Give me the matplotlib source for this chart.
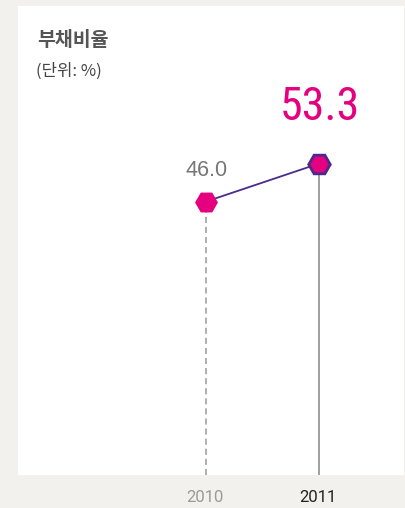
import matplotlib
matplotlib.use("Agg")
import matplotlib.pyplot as plt
from matplotlib import font_manager

# data
years = [2010, 2011]
debt_ratio = [46.0, 53.3]
value_labels = ["46.0", "53.3"]
year_labels = ["2010", "2011"]

title = "부채비율"
unit = "(단위: %)"

MAGENTA = "#e4007f"
PURPLE = "#4b2a8c"
BG = "#f2f1ed"

# pick a narrow font for the big number if one is installed
names = sorted({f.name for f in font_manager.fontManager.ttflist})
narrow = None
for cand in ["Liberation Sans Narrow", "DejaVu Sans Condensed", "Roboto Condensed"]:
    if cand in names:
        narrow = cand
        break
if narrow is None:
    narrow = "Liberation Sans"

fig = plt.figure(figsize=(4.05, 5.08), dpi=100)
fig.patch.set_facecolor(BG)

W, H = 405, 508
ax = fig.add_axes([18 / W, (H - 475) / H, 386 / W, 469 / H])
ax.set_facecolor("white")
ax.set_xlim(2008.336, 2011.752)
ax.set_ylim(-6.53, 83.57)
for s in ax.spines.values():
    s.set_visible(False)
ax.set_xticks([])
ax.set_yticks([])

ymin = ax.get_ylim()[0]

# drop lines
ax.vlines(years[0], ymin, debt_ratio[0], colors="#9a9a9a", lw=1.1,
          linestyles=(0, (4, 2.6)), zorder=1)
ax.vlines(years[1], ymin, debt_ratio[1], colors="#888888", lw=1.1, zorder=1)

# connecting line
ax.plot(years, debt_ratio, color=PURPLE, lw=1.3, zorder=2)

# markers
ax.plot(years[0], debt_ratio[0], marker="H", ms=16.5, color=MAGENTA,
        mec=MAGENTA, mew=0, ls="none", zorder=3)
ax.plot(years[1], debt_ratio[1], marker="H", ms=15.5, color=MAGENTA,
        mec=PURPLE, mew=2, ls="none", zorder=3)


def px(x, y):
    return x / W, 1 - y / H


fig.text(*px(37, 41), title, family=["Noto Sans CJK KR", "DejaVu Sans"],
         fontsize=14, fontweight="bold", color="#555555", va="center", ha="left")
fig.text(*px(36, 71), unit, family=["Noto Sans CJK KR", "DejaVu Sans"],
         fontsize=12, color="#444444", va="center", ha="left")

fig.text(*px(207, 170), value_labels[0], family=["Liberation Sans", "DejaVu Sans"],
         fontsize=15.5, color="#777777", va="center", ha="center")
fig.text(*px(320, 107), value_labels[1], family=[narrow, "DejaVu Sans"],
         fontsize=33, color=MAGENTA, va="center", ha="center")

fig.text(*px(205, 497), year_labels[0], family=["Roboto", "DejaVu Sans"],
         fontsize=12, color="#9a9a9a", va="center", ha="center")
fig.text(*px(318, 497), year_labels[1], family=["Roboto", "DejaVu Sans"],
         fontsize=12, color="#222222", va="center", ha="center")

fig.savefig("out.png", dpi=100, facecolor=BG)
